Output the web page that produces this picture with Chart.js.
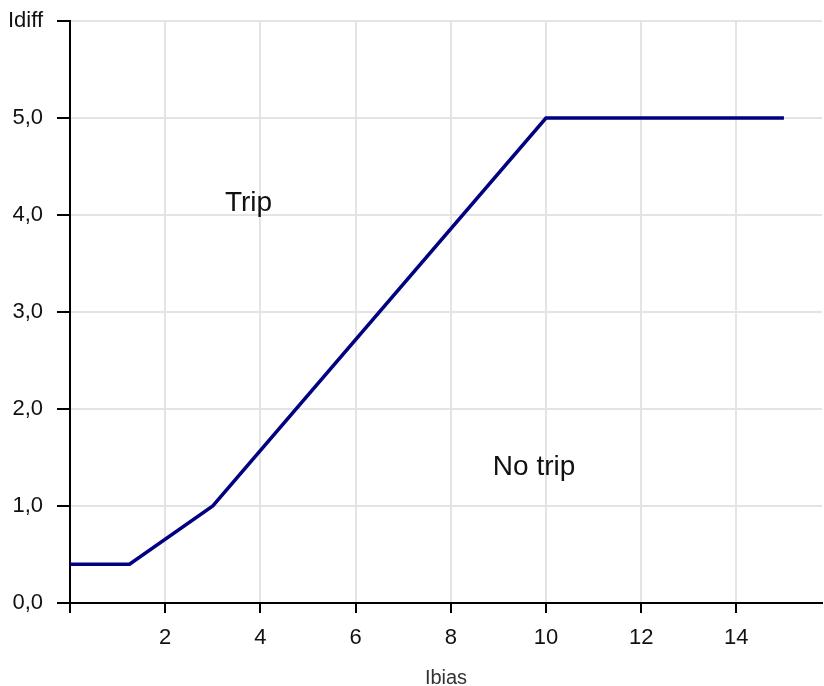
<!DOCTYPE html>
<html>
<head>
<meta charset="utf-8">
<script src="https://cdn.jsdelivr.net/npm/chart.js@4"></script>
<style>
  html, body { margin: 0; padding: 0; background: #fff; }
  #wrap { width: 824px; height: 686px; }
</style>
</head>
<body>
<div id="wrap"><canvas id="c" width="824" height="686"></canvas></div>
<script>
// characteristic curve: Ibias -> Idiff
const ibias = [0, 1.25, 3, 10, 15];
const idiff = [0.4, 0.4, 1.0, 5.0, 5.0];

// region labels
const zoneLabels = ["Trip", "No trip"];
const zoneX = [3.75, 9.75];
const zoneY = [4.12, 1.4];

const FONT = "'Liberation Sans', Arial, sans-serif";

const zonePlugin = {
  id: "zones",
  afterDatasetsDraw(ch) {
    const { ctx, scales } = ch;
    ctx.save();
    ctx.font = "28px " + FONT;
    ctx.fillStyle = "#111";
    ctx.textAlign = "center";
    ctx.textBaseline = "middle";
    zoneLabels.forEach((t, i) => {
      ctx.fillText(t, scales.x.getPixelForValue(zoneX[i]), scales.y.getPixelForValue(zoneY[i]));
    });
    ctx.restore();
  }
};

new Chart(document.getElementById("c"), {
  type: "line",
  data: {
    datasets: [{
      data: ibias.map((x, i) => ({ x, y: idiff[i] })),
      borderColor: "#000080",
      borderWidth: 3.5,
      pointRadius: 0,
      tension: 0,
      fill: false,
    }],
  },
  options: {
    responsive: false,
    animation: false,
    layout: { padding: { top: 21, right: 2, left: 0, bottom: 0 } },
    plugins: { legend: { display: false }, tooltip: { enabled: false } },
    scales: {
      x: {
        type: "linear",
        min: 0,
        max: 15.8,
        afterFit: s => { s.height = 83; },
        ticks: {
          stepSize: 2,
          includeBounds: false,
          padding: 12,
          color: "#111",
          font: { family: FONT, size: 22 },
          maxRotation: 0,
          callback: v => (v === 0 ? "" : String(v)),
        },
        grid: { color: "#e4e4e4", lineWidth: 2, tickColor: "#000", tickLength: 10, tickWidth: 2 },
        border: { color: "#000", width: 2 },
        title: {
          display: true,
          text: "Ibias",
          color: "#333",
          font: { family: FONT, size: 20 },
          padding: { top: 4, bottom: -4 },
        },
      },
      y: {
        min: 0,
        max: 6,
        afterFit: s => { s.width = 70; s.paddingTop = 0; },
        ticks: {
          stepSize: 1,
          padding: 14,
          color: "#111",
          font: { family: FONT, size: 22 },
          callback: v => (v === 6 ? "Idiff" : v.toFixed(1).replace(".", ",")),
        },
        grid: { color: "#e4e4e4", lineWidth: 2, tickColor: "#000", tickLength: 13, tickWidth: 2 },
        border: { color: "#000", width: 2 },
      },
    },
  },
  plugins: [zonePlugin],
});
</script>
</body>
</html>
